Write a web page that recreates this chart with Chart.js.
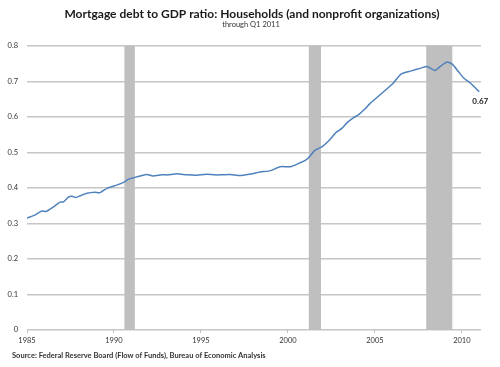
<!DOCTYPE html>
<html>
<head>
<meta charset="utf-8">
<script src="https://cdn.jsdelivr.net/npm/chart.js@4"></script>
<style>
  html, body { margin: 0; padding: 0; background: #fff; }
  #wrap { width: 500px; height: 367px; position: relative; }
</style>
</head>
<body>
<div id="wrap"><canvas id="debtChart" width="500" height="367"></canvas></div>
<script>
// quarterly-ish readings of the mortgage debt / GDP ratio
const years = [
    1985.0, 1985.5, 1985.85, 1986.1, 1986.5, 1986.9, 1987.1, 1987.4, 1987.6, 1987.8,
    1988.1, 1988.45, 1988.9, 1989.2, 1989.6, 1990.15, 1990.55, 1990.85, 1991.2, 1991.5,
    1991.9, 1992.25, 1992.75, 1993.1, 1993.6, 1994.2, 1994.75, 1995.3, 1995.8, 1996.1,
    1996.7, 1997.25, 1997.8, 1998.4, 1999.0, 1999.55, 2000.15, 2000.65, 2001.0, 2001.2,
    2001.55, 2001.95, 2002.35, 2002.8, 2003.1, 2003.4, 2003.8, 2004.05, 2004.45, 2004.7,
    2005.0, 2005.5, 2006.05, 2006.5, 2007.1, 2007.6, 2008.0, 2008.45, 2008.85, 2009.15,
    2009.45, 2009.8, 2010.1, 2010.5, 2011.0
];
const ratio = [
    0.315, 0.325, 0.335, 0.334, 0.346, 0.360, 0.361, 0.375, 0.377, 0.373,
    0.379, 0.385, 0.388, 0.387, 0.399, 0.408, 0.416, 0.425, 0.430, 0.434,
    0.438, 0.434, 0.437, 0.437, 0.440, 0.437, 0.436, 0.439, 0.437, 0.437,
    0.438, 0.435, 0.439, 0.445, 0.449, 0.460, 0.460, 0.470, 0.478, 0.486,
    0.506, 0.516, 0.533, 0.558, 0.568, 0.584, 0.599, 0.606, 0.624, 0.637,
    0.650, 0.671, 0.695, 0.721, 0.730, 0.737, 0.742, 0.731, 0.746, 0.755,
    0.749, 0.728, 0.710, 0.695, 0.671
];

// recessions (shaded bands)
const recessionStart = [1990.6, 2001.2, 2007.95];
const recessionEnd   = [1991.2, 2001.9, 2009.45];

const yTicks = [0, 0.1, 0.2, 0.3, 0.4, 0.5, 0.6, 0.7, 0.8];
const xTicks = [1985, 1990, 1995, 2000, 2005, 2010];

const titleText = 'Mortgage debt to GDP ratio: Households (and nonprofit organizations)';
const subtitleText = 'through Q1 2011';
const sourceText = 'Source: Federal Reserve Board (Flow of Funds), Bureau of Economic Analysis';
const endLabel = '0.67';

const FONT = "Lato, 'Open Sans', sans-serif";

// grey bars behind the line
const recessionBands = {
    id: 'recessionBands',
    beforeDatasetsDraw(chart) {
        const { ctx, chartArea, scales } = chart;
        ctx.save();
        ctx.fillStyle = '#bfbfbf';
        for (let i = 0; i < recessionStart.length; i++) {
            const x0 = scales.x.getPixelForValue(recessionStart[i]);
            const x1 = scales.x.getPixelForValue(recessionEnd[i]);
            ctx.fillRect(x0, chartArea.top, x1 - x0, chartArea.bottom - chartArea.top);
        }
        ctx.restore();
    }
};

// titles, source note and the end-value label
const textLayer = {
    id: 'textLayer',
    afterDraw(chart) {
        const { ctx, scales } = chart;
        ctx.save();
        ctx.textAlign = 'center';
        ctx.textBaseline = 'middle';
        ctx.fillStyle = '#1a1a1a';
        ctx.font = "bold 12px " + FONT;
        ctx.fillText(titleText, 252, 14);
        ctx.fillStyle = '#333';
        ctx.font = "7.5px " + FONT;
        ctx.fillText(subtitleText, 251, 24.5);

        ctx.textAlign = 'left';
        ctx.font = "bold 7.5px " + FONT;
        ctx.fillStyle = '#333';
        ctx.fillText(sourceText, 12, 356);

        const last = years.length - 1;
        const px = scales.x.getPixelForValue(years[last]);
        const py = scales.y.getPixelForValue(ratio[last]);
        ctx.textAlign = 'center';
        ctx.font = "bold 8px " + FONT;
        ctx.fillStyle = '#222';
        ctx.fillText(endLabel, px + 1, py + 10);
        ctx.restore();
    }
};

const points = years.map((y, i) => ({ x: y, y: ratio[i] }));

new Chart(document.getElementById('debtChart').getContext('2d'), {
    type: 'line',
    data: {
        datasets: [{
            label: 'Mortgage debt / GDP',
            data: points,
            borderColor: '#4f81bd',
            borderWidth: 1.5,
            pointRadius: 0,
            fill: false,
            tension: 0.2
        }]
    },
    options: {
        responsive: false,
        animation: false,
        layout: { padding: { left: 0, right: 19, top: 46, bottom: 0 } },
        plugins: {
            legend: { display: false },
            tooltip: { enabled: false }
        },
        scales: {
            x: {
                type: 'linear',
                min: 1985,
                max: 2011.1,
                afterFit(scale) { scale.height = 37; },
                afterBuildTicks(scale) {
                    scale.ticks = xTicks.map(v => ({ value: v }));
                },
                grid: {
                    display: true,
                    drawOnChartArea: false,
                    drawTicks: true,
                    tickLength: 3,
                    color: '#bdbdbd'
                },
                border: { display: false },
                ticks: {
                    padding: 3,
                    color: '#333',
                    font: { family: FONT, size: 7.5 },
                    maxRotation: 0,
                    callback: (v) => String(v)
                }
            },
            y: {
                min: 0,
                max: 0.8,
                afterFit(scale) { scale.width = 27; },
                afterBuildTicks(scale) {
                    scale.ticks = yTicks.map(v => ({ value: v }));
                },
                grid: {
                    color: '#c6c6c6',
                    lineWidth: 1.5,
                    drawTicks: false
                },
                border: { display: false },
                ticks: {
                    padding: 9,
                    color: '#333',
                    font: { family: FONT, size: 7.5 },
                    callback: (v) => String(Math.round(v * 10) / 10)
                }
            }
        }
    },
    plugins: [recessionBands, textLayer]
});
</script>
</body>
</html>
